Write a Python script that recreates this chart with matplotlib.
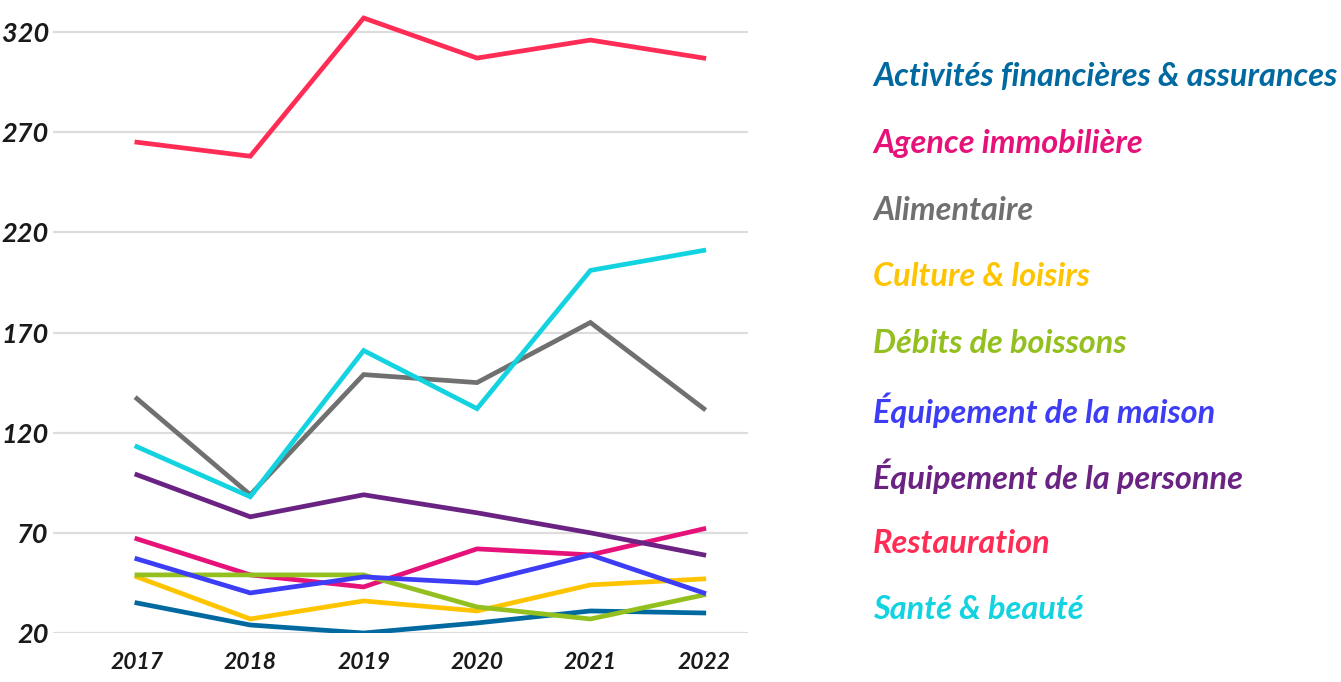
import matplotlib.pyplot as plt

# ---------------------------------------------------------
# Données
# ---------------------------------------------------------
annees = [2017, 2018, 2019, 2020, 2021, 2022]

secteurs = [
    "Activités financières & assurances",
    "Agence immobilière",
    "Alimentaire",
    "Culture & loisirs",
    "Débits de boissons",
    "Équipement de la maison",
    "Équipement de la personne",
    "Restauration",
    "Santé & beauté",
]

activites_fin = [35, 24, 20, 25, 31, 30]
agence_immo = [67, 49, 43, 62, 59, 72]
alimentaire = [137, 89, 149, 145, 175, 132]
culture_loisirs = [48, 27, 36, 31, 44, 47]
debits_boissons = [49, 49, 49, 33, 27, 39]
equip_maison = [57, 40, 48, 45, 59, 40]
equip_personne = [99, 78, 89, 80, 70, 59]
restauration = [265, 258, 327, 307, 316, 307]
sante_beaute = [113, 88, 161, 132, 201, 211]

valeurs = [activites_fin, agence_immo, alimentaire, culture_loisirs,
           debits_boissons, equip_maison, equip_personne, restauration,
           sante_beaute]

couleurs = ["#0069A0", "#E6127A", "#707070", "#FFC400", "#93C01F",
            "#3D3DF5", "#6A2382", "#FF2D55", "#12D3DF"]

graduations_y = [20, 70, 120, 170, 220, 270, 320]

# ---------------------------------------------------------
# Graphique
# ---------------------------------------------------------
plt.rcParams['font.family'] = ['Lato', 'DejaVu Sans']

fig = plt.figure(figsize=(13.41, 6.82), dpi=100)
ax = fig.add_axes([53 / 1341, 1 - 633 / 682, (748 - 53) / 1341, 621 / 682])

for serie, couleur in zip(valeurs, couleurs):
    ax.plot(annees, serie, color=couleur, linewidth=3.4,
            solid_joinstyle='miter', zorder=3)

ax.set_ylim(20, 330)
ax.set_xlim(2016.26, 2022.39)
ax.set_yticks(graduations_y)
ax.set_xticks(annees)
ax.set_xticklabels([str(a) for a in annees], fontsize=16.5, style='italic',
                   fontweight='bold', color='#1a1a1a')
ax.set_yticklabels([str(v) for v in graduations_y], fontsize=19.5,
                   style='italic', fontweight='bold', color='#1a1a1a')
ax.tick_params(axis='both', length=0)
ax.tick_params(axis='y', pad=-2)
ax.tick_params(axis='x', pad=14)
for lbl in ax.get_yticklabels():
    lbl.set_horizontalalignment('right')
    lbl.set_x(-0.01)

ax.grid(axis='y', color='#dddddd', linewidth=1.6, zorder=0)
for s in ax.spines.values():
    s.set_visible(False)

# légende sous forme de texte coloré
for i, (nom, couleur) in enumerate(zip(secteurs, couleurs)):
    y = 77 + i * 66.6
    fig.text(873 / 1341, 1 - y / 682, nom, color=couleur, fontsize=23.4,
             style='italic', fontweight='bold', va='center', ha='left')

fig.savefig("out.png", dpi=100)
